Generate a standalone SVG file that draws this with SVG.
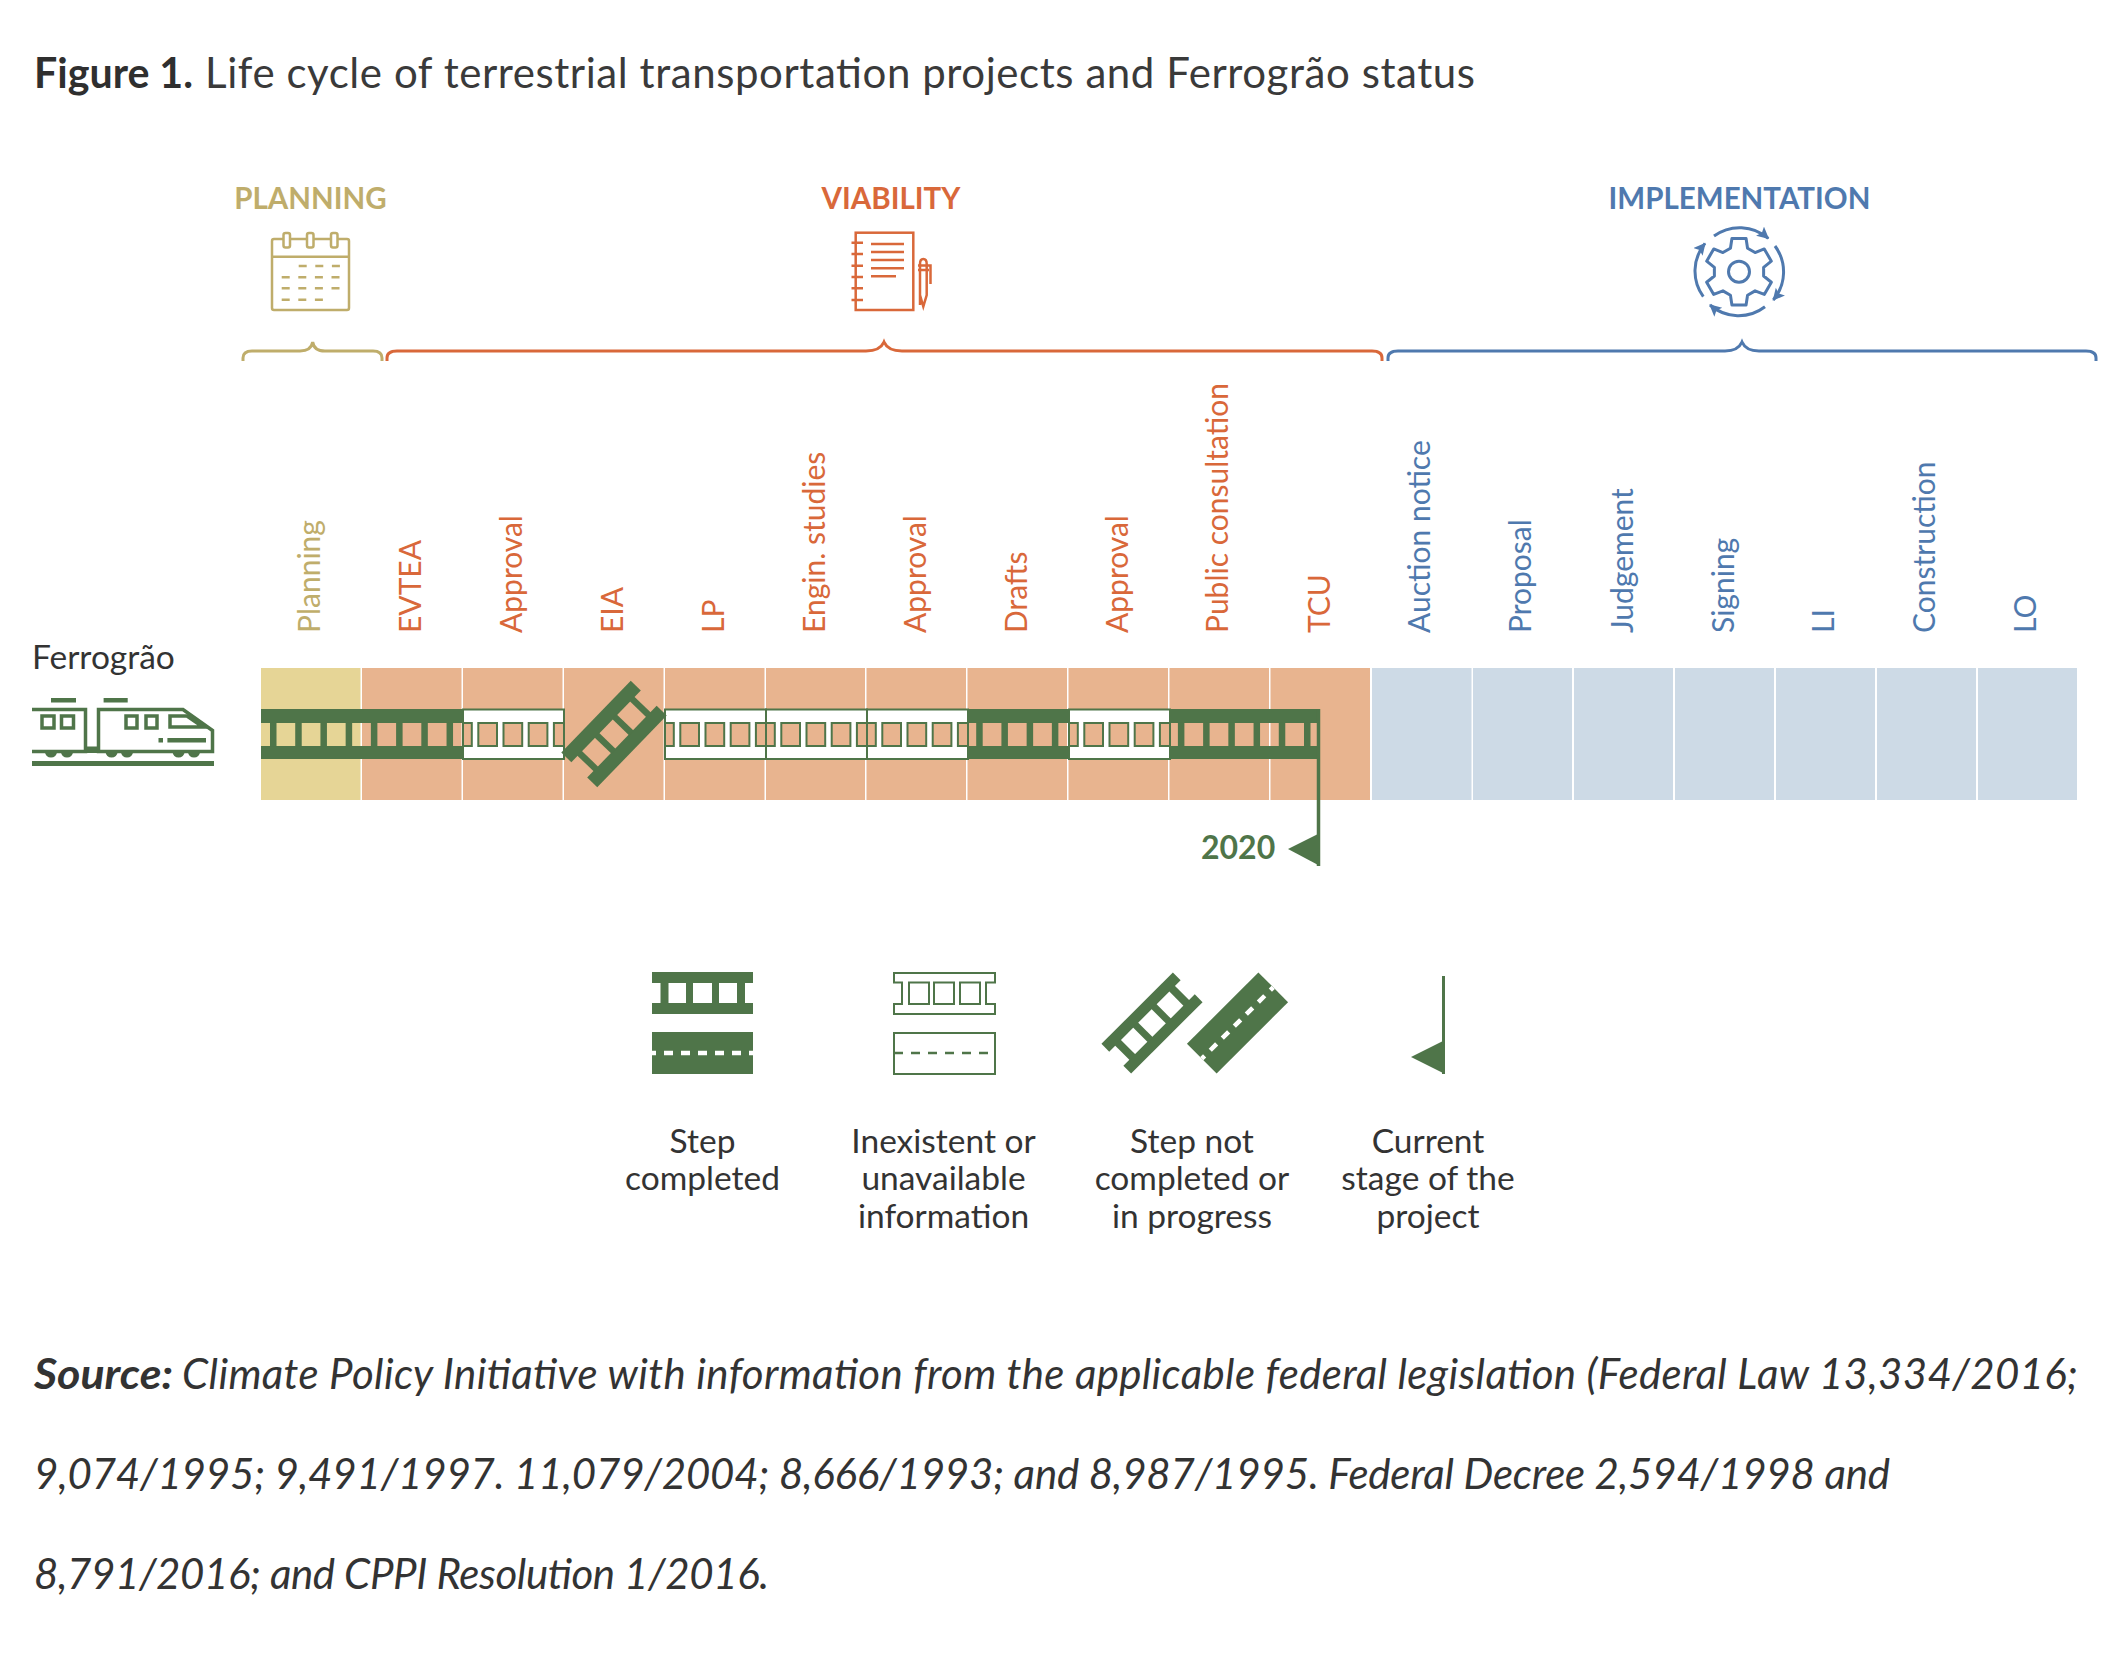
<svg xmlns="http://www.w3.org/2000/svg" xmlns:xlink="http://www.w3.org/1999/xlink" width="2118" height="1659" viewBox="0 0 2118 1659">
<style>
text{font-family:"Lato","Open Sans",sans-serif}
.ink{fill:#2f2f2f}
.g{fill:#4f7549}
.gs{fill:none;stroke:#4f7549}
.vl{font-size:30px}
.pl{fill:#bfad6b}.vi{fill:#d9683a}.im{fill:#4f79ae}
.hd{font-size:29.5px;font-weight:700}
.lg{font-size:33.5px;fill:#333;text-anchor:middle}
.src{font-size:42px;font-style:italic;fill:#333}
.win{fill:#e8b48f;stroke:#4f7549;stroke-width:2}
.br{fill:none;stroke-width:3}
</style>
<defs>
<g id="ocell">
<rect x="0" y="709.5" width="101" height="49.5" fill="#fff" stroke="#4f7549" stroke-width="2"/>
<rect class="win" x="0" y="723" width="8.8" height="23"/>
<rect class="win" x="15.3" y="723" width="18.7" height="23"/>
<rect class="win" x="40.5" y="723" width="18.7" height="23"/>
<rect class="win" x="65.7" y="723" width="18.7" height="23"/>
<rect class="win" x="90.9" y="723" width="10.1" height="23"/>
</g>
<g id="ladderL" class="g">
<rect x="-50" y="-25" width="100" height="14"/>
<rect x="-50" y="11" width="100" height="14"/>
<rect x="-41" y="-12" width="6.5" height="24"/>
<rect x="-16" y="-12" width="6.5" height="24"/>
<rect x="9.5" y="-12" width="6.5" height="24"/>
<rect x="34.5" y="-12" width="6.5" height="24"/>
</g>
<g id="ladderS" class="g">
<rect x="-50.5" y="-21" width="101" height="11"/>
<rect x="-50.5" y="10" width="101" height="11"/>
<rect x="-42" y="-11" width="8" height="22"/>
<rect x="-16.5" y="-11" width="7" height="22"/>
<rect x="9.5" y="-11" width="7" height="22"/>
<rect x="34.5" y="-11" width="8" height="22"/>
</g>
<g id="roadS">
<rect class="g" x="-50.5" y="-21" width="101" height="42"/>
<line x1="-50.5" x2="50.5" y1="0" y2="0" stroke="#fff" stroke-width="4.5" stroke-dasharray="9 8" stroke-dashoffset="5"/>
</g>
<marker id="ah" markerWidth="14" markerHeight="14" refX="11" refY="6" orient="auto" markerUnits="userSpaceOnUse"><path d="M0 0L12 6L0 12L2.500 6Z" fill="#4f79ae"/></marker>
</defs>

<g id="title">
<text x="34" y="88" font-size="42" font-weight="700" class="ink" textLength="159" lengthAdjust="spacingAndGlyphs">Figure 1.</text>
<text x="205" y="88" font-size="42" fill="#3a3a3a" textLength="1270">Life cycle of terrestrial transportation projects and Ferrogrão status</text>
</g>

<g id="planning-header">
<text x="310.500" y="209" text-anchor="middle" class="hd pl">PLANNING</text>
<g fill="none" stroke="#bfad6b" stroke-width="2.5" stroke-linejoin="round">
<rect x="272" y="239" width="77" height="71" rx="2"/>
<line x1="272" x2="349" y1="256.7" y2="256.7"/>
<rect x="283.5" y="233" width="6.5" height="14.5" rx="2" fill="#fff"/>
<rect x="307" y="233" width="6.5" height="14.5" rx="2" fill="#fff"/>
<rect x="331" y="233" width="6.5" height="14.5" rx="2" fill="#fff"/>
<path stroke-dasharray="8 8.6" d="M298.700 266H344M281.700 277.300H344M281.700 288.300H344M281.700 299.700H327"/>
</g>
<path class="br" stroke="#bfad6b" d="M243 361V358Q243 351 252 351H300Q311 351 312.700 342Q314 351 325 351H373Q382 351 382 358V361"/>
</g>

<g id="viability-header">
<text x="891" y="209" text-anchor="middle" class="hd vi">VIABILITY</text>
<g fill="none" stroke="#d9683a" stroke-width="2.5">
<rect x="855.700" y="232.700" width="57.600" height="77.300"/>
<path d="M871 244H904M871 252H904M871 260H904M871 268.300H904M871 276.300H896"/>
<path d="M851.500 242.700H863M851.500 254H863M851.500 265.700H863M851.500 277H863M851.500 288.300H863M851.500 300H863"/>
<path d="M920 305V264Q920 259 923.300 259Q926.700 259 926.700 264V295L923.300 306.500L920 295M918 265.500H930.500V284M918 270H929"/>
</g>
<path class="br" stroke="#d9683a" d="M387 361V358Q387 351 397 351H866Q880 351 884 342Q888 351 902 351H1372Q1382 351 1382 358V361"/>
</g>

<g id="implementation-header">
<text x="1739.500" y="209" text-anchor="middle" class="hd im">IMPLEMENTATION</text>
<g transform="translate(1739 271.700)" fill="none" stroke="#4f79ae" stroke-width="3" stroke-linejoin="round">
<path d="M-7.070 -33.260L7.070 -33.260L8.550 -23.490L16.070 -19.150L25.270 -22.750L32.340 -10.510L24.620 -4.340L24.620 4.340L32.340 10.510L25.270 22.750L16.070 19.150L8.550 23.490L7.070 33.260L-7.070 33.260L-8.550 23.490L-16.070 19.150L-25.270 22.750L-32.340 10.510L-24.620 4.340L-24.620 -4.340L-32.340 -10.510L-25.270 -22.750L-16.070 -19.150L-8.550 -23.490Z"/>
<circle r="10.500"/>
<path marker-end="url(#ah)" d="M-25 -35.700A43.500 43.500 0 0 1 29.300 -33.300"/>
<path marker-end="url(#ah)" d="M36 -25.700A43.500 43.500 0 0 1 34.300 28.300"/>
<path marker-end="url(#ah)" d="M26 35A43.500 43.500 0 0 1 -29 33.300"/>
<path marker-end="url(#ah)" d="M-35.700 25A43.500 43.500 0 0 1 -34 -28.300"/>
</g>
<path class="br" stroke="#4f79ae" d="M1388 361V358Q1388 351 1398 351H1725Q1738 351 1742 342Q1746 351 1759 351H2086Q2096 351 2096 358V361"/>
</g>

<g id="step-labels">
<text class="vl pl" transform="translate(320 633) rotate(-90)">Planning</text>
<text class="vl vi" transform="translate(421 633) rotate(-90)">EVTEA</text>
<text class="vl vi" transform="translate(522 633) rotate(-90)">Approval</text>
<text class="vl vi" transform="translate(622.500 633) rotate(-90)">EIA</text>
<text class="vl vi" transform="translate(724 633) rotate(-90)">LP</text>
<text class="vl vi" transform="translate(825 633) rotate(-90)">Engin. studies</text>
<text class="vl vi" transform="translate(926 633) rotate(-90)">Approval</text>
<text class="vl vi" transform="translate(1027 633) rotate(-90)">Drafts</text>
<text class="vl vi" transform="translate(1128 633) rotate(-90)">Approval</text>
<text class="vl vi" transform="translate(1228 633) rotate(-90)">Public consultation</text>
<text class="vl vi" transform="translate(1329.500 633) rotate(-90)">TCU</text>
<text class="vl im" transform="translate(1430 633) rotate(-90)">Auction notice</text>
<text class="vl im" transform="translate(1531 633) rotate(-90)">Proposal</text>
<text class="vl im" transform="translate(1632.500 633) rotate(-90)">Judgement</text>
<text class="vl im" transform="translate(1733.500 633) rotate(-90)">Signing</text>
<text class="vl im" transform="translate(1834 633) rotate(-90)">LI</text>
<text class="vl im" transform="translate(1935 633) rotate(-90)">Construction</text>
<text class="vl im" transform="translate(2036 633) rotate(-90)">LO</text>
</g>

<g id="ferrograo">
<text x="32" y="669" font-size="33.500" fill="#333">Ferrogrão</text>
<g id="train">
<g fill="none" stroke="#4f7549" stroke-width="3.500">
<path d="M32 709.500H85.500V751.500H32"/>
<path d="M98.500 709.500H183L212.500 730.500V751.500H98.500Z"/>
<rect x="42" y="716" width="12" height="12"/>
<rect x="61.500" y="716" width="12" height="12"/>
<rect x="126" y="716" width="11" height="12"/>
<rect x="146" y="716" width="11" height="12"/>
<path d="M203 727H170V716H187Z"/>
</g>
<g class="g">
<rect x="51" y="698" width="25" height="4.500"/>
<rect x="103.600" y="698" width="24.100" height="4.500"/>
<rect x="85" y="746.500" width="14" height="6.500"/>
<rect x="158.500" y="738" width="4.500" height="4.500"/>
<rect x="167.400" y="738" width="38.600" height="4.500"/>
<rect x="32" y="761" width="182" height="5"/>
<path d="M45 752a6 5.500 0 0 0 12 0zM61 752a6 5.500 0 0 0 12 0zM105.600 752a6 5.500 0 0 0 12 0zM121 752a6 5.500 0 0 0 12 0zM172.600 752a6 5.500 0 0 0 12 0zM188 752a6 5.500 0 0 0 12 0z"/>
</g>
</g>
</g>

<g id="cells">
<rect x="261" y="668" width="99.500" height="132" fill="#e6d596"/>
<g fill="#e8b48f">
<rect x="362" y="668" width="99.500" height="132"/>
<rect x="463" y="668" width="99.500" height="132"/>
<rect x="564" y="668" width="99.500" height="132"/>
<rect x="665" y="668" width="99.500" height="132"/>
<rect x="766" y="668" width="99" height="132"/>
<rect x="866.500" y="668" width="99.500" height="132"/>
<rect x="967.500" y="668" width="99.500" height="132"/>
<rect x="1068.500" y="668" width="99.500" height="132"/>
<rect x="1169.500" y="668" width="99.500" height="132"/>
<rect x="1270.500" y="668" width="99.500" height="132"/>
</g>
<g fill="#cddae6">
<rect x="1372" y="668" width="99.500" height="132"/>
<rect x="1473" y="668" width="99" height="132"/>
<rect x="1574" y="668" width="99" height="132"/>
<rect x="1675" y="668" width="99" height="132"/>
<rect x="1776" y="668" width="99" height="132"/>
<rect x="1877" y="668" width="99" height="132"/>
<rect x="1978" y="668" width="99" height="132"/>
</g>
</g>

<g id="track">
<g class="g">
<rect x="261" y="709" width="202" height="14"/><rect x="261" y="746" width="202" height="13"/>
<rect x="967.500" y="709" width="101.500" height="14"/><rect x="967.500" y="746" width="101.500" height="13"/>
<rect x="1169.500" y="709" width="150.500" height="14"/><rect x="1169.500" y="746" width="150.500" height="13"/>
</g>
<g stroke="#4f7549" stroke-width="24" stroke-dasharray="6.500 18.720">
<line x1="261" x2="463" y1="734.500" y2="734.500" stroke-dashoffset="-9"/>
<line x1="967.500" x2="1069" y1="734.500" y2="734.500" stroke-dashoffset="-8.700"/>
<line x1="1169.500" x2="1312" y1="734.500" y2="734.500" stroke-dashoffset="-8.400"/>
</g>
<use xlink:href="#ocell" href="#ocell" x="463"/>
<use xlink:href="#ocell" href="#ocell" x="665"/>
<use xlink:href="#ocell" href="#ocell" x="766"/>
<use xlink:href="#ocell" href="#ocell" x="867"/>
<use xlink:href="#ocell" href="#ocell" x="1069"/>
<use xlink:href="#ladderL" href="#ladderL" transform="translate(614 734) rotate(-46)"/>
</g>

<g id="connectors">
<line x1="1318.500" x2="1318.500" y1="709" y2="866" stroke="#4f7549" stroke-width="3.500"/>
<polygon class="g" points="1288,849 1320,833 1320,866"/>
</g>
<text x="1201" y="858.500" font-size="32" font-weight="700" class="g">2020</text>

<g id="legend-completed">
<use xlink:href="#ladderS" href="#ladderS" transform="translate(702.500 993)"/>
<use xlink:href="#roadS" href="#roadS" transform="translate(702.500 1053)"/>
<text class="lg"><tspan x="702.500" y="1153">Step</tspan><tspan x="702.500" y="1190">completed</tspan></text>
</g>
<g id="legend-inexistent">
<path class="gs" stroke-width="2" d="M894 973H995V982.500H986V1004H995V1014H894V1004H902V982.500H894Z"/>
<g class="gs" stroke-width="2">
<rect x="909" y="982.500" width="20" height="21.500"/>
<rect x="934" y="982.500" width="20" height="21.500"/>
<rect x="960" y="982.500" width="20" height="21.500"/>
</g>
<rect class="gs" stroke-width="2" x="894" y="1033" width="101" height="41"/>
<line x1="894" x2="995" y1="1053" y2="1053" stroke="#4f7549" stroke-width="2.500" stroke-dasharray="9 8"/>
<text class="lg"><tspan x="943.500" y="1153">Inexistent or</tspan><tspan x="943.500" y="1190">unavailable</tspan><tspan x="943.500" y="1227.500">information</tspan></text>
</g>
<g id="legend-not-completed">
<use xlink:href="#ladderS" href="#ladderS" transform="translate(1152 1023) rotate(-45)"/>
<use xlink:href="#roadS" href="#roadS" transform="translate(1237.500 1023) rotate(-45)"/>
<text class="lg"><tspan x="1192" y="1153">Step not</tspan><tspan x="1192" y="1190">completed or</tspan><tspan x="1192" y="1227.500">in progress</tspan></text>
</g>
<g id="legend-current">
<line x1="1443.500" x2="1443.500" y1="976" y2="1074" stroke="#4f7549" stroke-width="3"/>
<polygon class="g" points="1411,1057 1445,1040 1445,1074"/>
<text class="lg"><tspan x="1428" y="1153">Current</tspan><tspan x="1428" y="1190">stage of the</tspan><tspan x="1428" y="1227.500">project</tspan></text>
</g>

<g id="source">
<text x="34" y="1389" class="src" font-weight="700" textLength="139" lengthAdjust="spacingAndGlyphs">Source:</text>
<text x="182" y="1389" class="src" textLength="1896">Climate Policy Initiative with information from the applicable federal legislation (Federal Law 13,334/2016;</text>
<text x="34" y="1489" class="src" textLength="1856">9,074/1995; 9,491/1997. 11,079/2004; 8,666/1993; and 8,987/1995. Federal Decree 2,594/1998 and</text>
<text x="34" y="1589" class="src" textLength="735">8,791/2016; and CPPI Resolution 1/2016.</text>
</g>
</svg>
